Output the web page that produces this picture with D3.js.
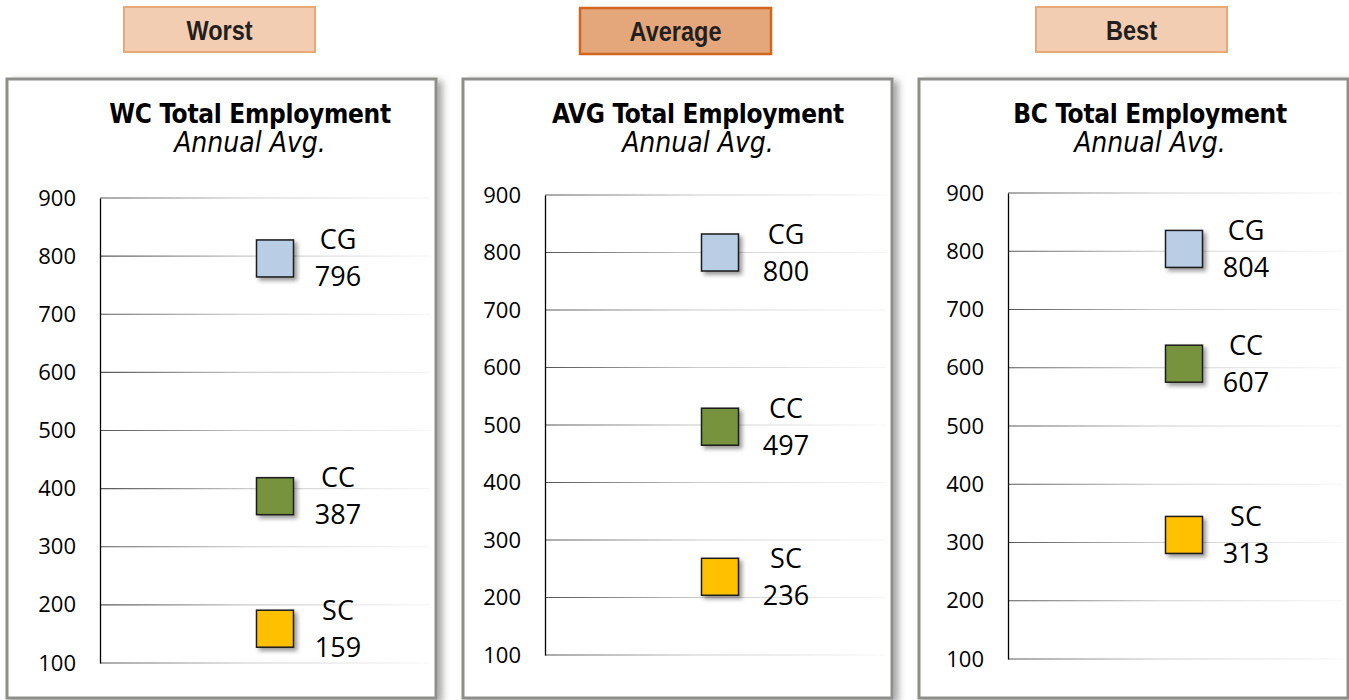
<!DOCTYPE html>
<html>
<head>
<meta charset="utf-8">
<script src="https://cdn.jsdelivr.net/npm/d3@7"></script>
<style>
  body { margin: 0; background: #fff; }
  svg { display: block; }
</style>
</head>
<body>
<div id="chart"></div>
<script>
// data
const scenarios = ["Worst", "Average", "Best"];
const titles = ["WC Total Employment", "AVG Total Employment", "BC Total Employment"];
const subtitle = "Annual Avg.";
const categories = ["CG", "CC", "SC"];
const worstValues = [796, 387, 159];
const averageValues = [800, 497, 236];
const bestValues = [804, 607, 313];
const yTicks = [100, 200, 300, 400, 500, 600, 700, 800, 900];
const seriesValues = [worstValues, averageValues, bestValues];

const catColors = { CG: "#b9cde5", CC: "#77933c", SC: "#ffc000" };

// layout of each panel (pixels)
const panelTop = 79, panelBottom = 698, panelW = 429;
const layout = [
  { x: 7,   axisX: 100,  y900: 198, y100: 663, markX: 275,  labelX: 338,  titleX: 250,  tab: { x: 124,  y: 7, w: 191, h: 45 } },
  { x: 463, axisX: 545,  y900: 195, y100: 655, markX: 720,  labelX: 786,  titleX: 698,  tab: { x: 580,  y: 8, w: 191, h: 46 } },
  { x: 919, axisX: 1008, y900: 193, y100: 659, markX: 1184, labelX: 1246, titleX: 1150, tab: { x: 1036, y: 7, w: 191, h: 45 } }
];
const activeScenario = "Average";

const width = 1349, height = 700;
const labelFont = "'Open Sans', 'Liberation Sans', sans-serif";
const titleFont = "'DejaVu Sans Condensed', 'DejaVu Sans', sans-serif";

const svg = d3.select("#chart").append("svg")
  .attr("width", width)
  .attr("height", height);

const defs = svg.append("defs");

const panelShadow = defs.append("filter").attr("id", "panelShadow")
  .attr("x", "-10%").attr("y", "-10%").attr("width", "130%").attr("height", "130%");
panelShadow.append("feDropShadow")
  .attr("dx", 5).attr("dy", 3).attr("stdDeviation", 3.5)
  .attr("flood-color", "#000").attr("flood-opacity", 0.35);

const markShadow = defs.append("filter").attr("id", "markShadow")
  .attr("x", "-30%").attr("y", "-30%").attr("width", "170%").attr("height", "170%");
markShadow.append("feDropShadow")
  .attr("dx", 3).attr("dy", 3).attr("stdDeviation", 2)
  .attr("flood-color", "#000").attr("flood-opacity", 0.4);

// scenario tabs
scenarios.forEach((name, i) => {
  const t = layout[i].tab;
  const active = name === activeScenario;
  const g = svg.append("g");
  g.append("rect")
    .attr("x", t.x).attr("y", t.y)
    .attr("width", t.w).attr("height", t.h)
    .attr("fill", active ? "#e3a77b" : "#f2cdb1")
    .attr("stroke", active ? "#d2661e" : "#e9a878")
    .attr("stroke-width", active ? 2.5 : 2);
  // narrow bold face: squeeze horizontally
  g.append("text")
    .attr("transform", `translate(${t.x + t.w / 2},${t.y + t.h / 2}) scale(0.84,1)`)
    .attr("dy", "0.36em")
    .attr("text-anchor", "middle")
    .attr("font-family", "'Liberation Sans', 'DejaVu Sans', sans-serif")
    .attr("font-weight", "bold")
    .attr("font-size", 28)
    .attr("fill", "#231f20")
    .text(name);
});

// panels
scenarios.forEach((name, i) => {
  const L = layout[i];
  const values = seriesValues[i];
  const g = svg.append("g");

  g.append("rect")
    .attr("x", L.x).attr("y", panelTop)
    .attr("width", panelW).attr("height", panelBottom - panelTop)
    .attr("fill", "#fff")
    .attr("stroke", "#8e8f8a")
    .attr("stroke-width", 3)
    .attr("filter", "url(#panelShadow)");

  g.append("text")
    .attr("x", L.titleX).attr("y", 123)
    .attr("text-anchor", "middle")
    .attr("font-family", titleFont)
    .attr("font-stretch", "condensed")
    .attr("font-weight", "bold")
    .attr("font-size", 26)
    .attr("letter-spacing", -0.3)
    .attr("fill", "#000")
    .text(titles[i]);

  g.append("text")
    .attr("x", L.titleX).attr("y", 152)
    .attr("text-anchor", "middle")
    .attr("font-family", titleFont)
    .attr("font-stretch", "condensed")
    .attr("font-style", "italic")
    .attr("font-size", 28)
    .attr("fill", "#000")
    .text(subtitle);

  const y = d3.scaleLinear().domain([100, 900]).range([L.y100, L.y900]);
  const gridEnd = L.x + panelW - 6;

  const grad = defs.append("linearGradient")
    .attr("id", "grid" + i)
    .attr("gradientUnits", "userSpaceOnUse")
    .attr("x1", L.axisX).attr("x2", gridEnd)
    .attr("y1", 0).attr("y2", 0);
  grad.append("stop").attr("offset", 0).attr("stop-color", "#555");
  grad.append("stop").attr("offset", 0.45).attr("stop-color", "#cbcbcb");
  grad.append("stop").attr("offset", 1).attr("stop-color", "#f7f7f7");

  g.append("g")
    .selectAll("line")
    .data(yTicks)
    .join("line")
    .attr("x1", L.axisX).attr("x2", gridEnd)
    .attr("y1", d => y(d)).attr("y2", d => y(d))
    .attr("stroke", `url(#grid${i})`)
    .attr("stroke-width", 1.2);

  const axis = g.append("g")
    .attr("transform", `translate(${L.axisX},0)`)
    .call(d3.axisLeft(y).tickValues(yTicks).tickSize(0).tickSizeOuter(0).tickPadding(24));
  axis.select(".domain").attr("stroke", "#000").attr("stroke-width", 1.3);
  axis.selectAll("text")
    .attr("font-family", labelFont)
    .attr("font-size", 22)
    .attr("fill", "#000");

  const size = 37;
  const pts = categories.map((c, k) => ({ cat: c, value: values[k] }));

  g.append("g")
    .selectAll("rect")
    .data(pts)
    .join("rect")
    .attr("x", L.markX - size / 2)
    .attr("y", d => y(d.value) - size / 2)
    .attr("width", size).attr("height", size)
    .attr("fill", d => catColors[d.cat])
    .attr("stroke", "#1a1a1a")
    .attr("stroke-width", 1.5)
    .attr("filter", "url(#markShadow)");

  const lab = g.append("g")
    .attr("font-family", labelFont)
    .attr("font-size", 27)
    .attr("fill", "#000")
    .attr("text-anchor", "middle");
  lab.selectAll("text.cat")
    .data(pts)
    .join("text")
    .attr("class", "cat")
    .attr("x", L.labelX)
    .attr("y", d => y(d.value) - 9)
    .text(d => d.cat);
  lab.selectAll("text.val")
    .data(pts)
    .join("text")
    .attr("class", "val")
    .attr("x", L.labelX)
    .attr("y", d => y(d.value) + 28)
    .text(d => d.value);
});
</script>
</body>
</html>
